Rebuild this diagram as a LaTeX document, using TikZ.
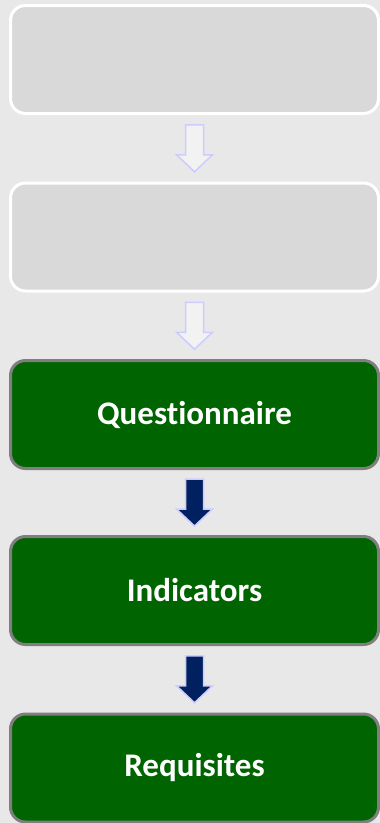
\documentclass[tikz,border=0pt]{standalone}
\usepackage{fontspec}
\setmainfont{Carlito}[Ligatures=NoCommon]
\usetikzlibrary{positioning,calc}

\definecolor{pagebg}{HTML}{E8E8E8}
\definecolor{boxgray}{HTML}{D9D9D9}
\definecolor{dkgreen}{HTML}{006400}
\definecolor{rimgray}{HTML}{7F7F7F}
\definecolor{navy}{HTML}{002060}
\definecolor{lilac}{HTML}{CCCCFF}
\definecolor{pale}{HTML}{F2F2F2}

\begin{document}
\begin{tikzpicture}[x=1pt,y=-1pt]
\tikzstyle{gb} = [draw=white,fill=boxgray,line width=3pt,rounded corners=15pt,minimum width=368pt,minimum height=108pt]
\tikzstyle{sb} = [draw=rimgray,fill=dkgreen,line width=3pt,rounded corners=15pt,minimum width=368pt,minimum height=108pt,text=white,font=\bfseries\fontsize{33}{38}\selectfont]
\tikzstyle{lite} = [draw=lilac,fill=pale,line width=1.5pt]
\tikzstyle{dark} = [draw=lilac,fill=navy,line width=1.5pt]
\tikzset{darr/.pic={\path[pic actions] (-9,-23.5) -- (9,-23.5) -- (9,6.5) -- (18,6.5) -- (0,23.5) -- (-18,6.5) -- (-9,6.5) -- cycle;}}
\fill[pagebg] (0,0) rectangle (380,823);
\useasboundingbox (0,0) rectangle (380,823);
\node[gb] (top) at (194.5,59.5) {};
\node[gb] (mid) at (194.5,237) {};
\node[sb] (quest) at (194.5,414.5) {Questionnaire};
\node[sb] (ind) at (194.5,590.5) {Indicators};
\node[sb] (req) at (194.5,768) {Requisites};
\pic[lite] at ($(top.south)!.5!(mid.north)$) {darr};
\pic[lite] at ($(mid.south)!.5!(quest.north)$) {darr};
\pic[dark] at ($(quest.south)!.5!(ind.north)$) {darr};
\pic[dark] at ($(ind.south)!.5!(req.north)$) {darr};
\end{tikzpicture}
\end{document}
